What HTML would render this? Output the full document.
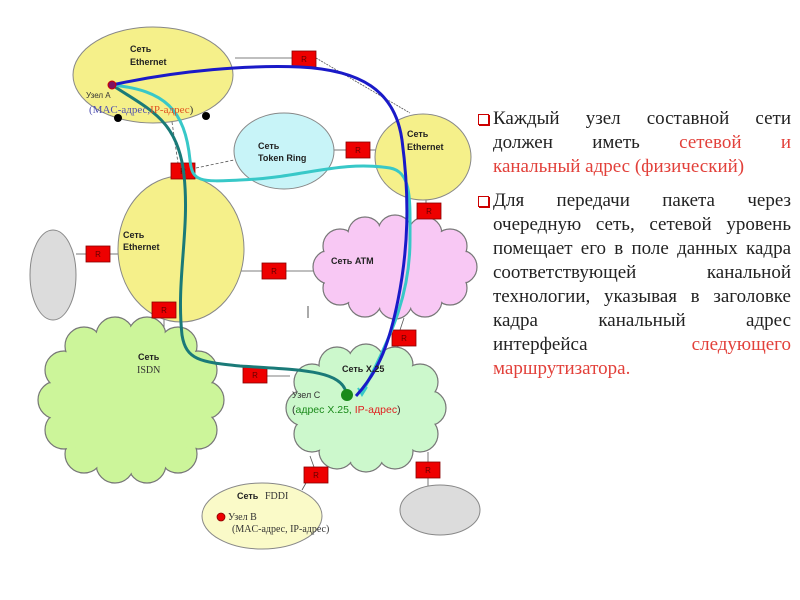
<!DOCTYPE html>
<html><head><meta charset="utf-8"><style>
html,body{margin:0;padding:0;background:#fff;}
body{width:800px;height:600px;position:relative;overflow:hidden;font-family:"Liberation Sans",sans-serif;}
svg{position:absolute;left:0;top:0;}
.txt{position:absolute;left:478px;width:313px;font-family:"Liberation Serif","DejaVu Serif",serif;font-size:19px;color:#222;}
.txt .l{margin-left:15px;text-align:justify;text-align-last:justify;white-space:nowrap;height:24px;line-height:24px;position:relative;}
.txt .l.e{text-align-last:left;}
.txt .b{position:absolute;left:-15px;top:7px;width:9px;height:9px;border:1px solid #c00;box-shadow:1px 1px 0 #c00;background:#fff;}
.r{color:#e2403a;}
</style></head><body>
<svg width="800" height="600" viewBox="0 0 800 600" font-family="Liberation Sans, sans-serif">
<g stroke="#555" stroke-width="0.8" fill="none">
<line x1="235" y1="58" x2="292" y2="58"/>
<line x1="316" y1="58" x2="410" y2="113" stroke-dasharray="2,1"/>
<line x1="334" y1="150" x2="346" y2="150"/>
<line x1="370" y1="150" x2="376" y2="150"/>
<line x1="172" y1="122" x2="178" y2="163" stroke-dasharray="3,2"/>
<line x1="196" y1="168" x2="234" y2="160" stroke-dasharray="3,2"/>
<line x1="180" y1="179" x2="180" y2="186"/>
<line x1="426" y1="196" x2="426" y2="203"/>
<line x1="426" y1="219" x2="426" y2="232"/>
<line x1="76" y1="254" x2="86" y2="254"/>
<line x1="110" y1="254" x2="119" y2="254"/>
<line x1="238" y1="271" x2="262" y2="271"/>
<line x1="286" y1="271" x2="315" y2="271"/>
<line x1="164" y1="318" x2="164" y2="328"/>
<line x1="404" y1="318" x2="400" y2="330"/>
<line x1="398" y1="346" x2="395" y2="355"/>
<line x1="267" y1="376" x2="290" y2="376"/>
<line x1="310" y1="456" x2="314" y2="467"/>
<line x1="306" y1="483" x2="302" y2="490"/>
<line x1="428" y1="452" x2="428" y2="462"/>
<line x1="428" y1="478" x2="428" y2="488"/>
</g>
<ellipse cx="153" cy="75" rx="80" ry="48" fill="#f5f08a" stroke="#888" stroke-width="1"/>
<ellipse cx="284" cy="151" rx="50" ry="38" fill="#c8f4f8" stroke="#888"/>
<ellipse cx="423" cy="157" rx="48" ry="43" fill="#f5f08a" stroke="#888"/>
<ellipse cx="181" cy="249" rx="63" ry="73" fill="#f5f08a" stroke="#888"/>
<ellipse cx="53" cy="275" rx="23" ry="45" fill="#dcdcdc" stroke="#888"/>
<ellipse cx="262" cy="516" rx="60" ry="33" fill="#fafac8" stroke="#888"/>
<ellipse cx="440" cy="510" rx="40" ry="25" fill="#dcdcdc" stroke="#888"/>
<g stroke="#777" stroke-width="1.2" fill="#f8c8f4">
<circle cx="460" cy="267" r="17"/><circle cx="450" cy="288" r="17"/><circle cx="425" cy="300" r="17"/><circle cx="395" cy="302" r="17"/><circle cx="365" cy="300" r="17"/><circle cx="340" cy="288" r="17"/><circle cx="330" cy="267" r="17"/><circle cx="340" cy="246" r="17"/><circle cx="365" cy="234" r="17"/><circle cx="395" cy="232" r="17"/><circle cx="425" cy="234" r="17"/><circle cx="450" cy="246" r="17"/>
</g>
<g fill="#f8c8f4">
<circle cx="460" cy="267" r="16"/><circle cx="450" cy="288" r="16"/><circle cx="425" cy="300" r="16"/><circle cx="395" cy="302" r="16"/><circle cx="365" cy="300" r="16"/><circle cx="340" cy="288" r="16"/><circle cx="330" cy="267" r="16"/><circle cx="340" cy="246" r="16"/><circle cx="365" cy="234" r="16"/><circle cx="395" cy="232" r="16"/><circle cx="425" cy="234" r="16"/><circle cx="450" cy="246" r="16"/>
<ellipse cx="395" cy="267" rx="65" ry="36"/>
</g>
<g stroke="#777" stroke-width="1.2" fill="#ccf59a">
<circle cx="205" cy="400" r="19"/><circle cx="198" cy="430" r="19"/><circle cx="178" cy="454" r="19"/><circle cx="147" cy="464" r="19"/><circle cx="115" cy="464" r="19"/><circle cx="84" cy="454" r="19"/><circle cx="64" cy="430" r="19"/><circle cx="57" cy="400" r="19"/><circle cx="64" cy="370" r="19"/><circle cx="84" cy="346" r="19"/><circle cx="115" cy="336" r="19"/><circle cx="147" cy="336" r="19"/><circle cx="178" cy="346" r="19"/><circle cx="198" cy="370" r="19"/>
</g>
<g fill="#ccf59a">
<circle cx="205" cy="400" r="18"/><circle cx="198" cy="430" r="18"/><circle cx="178" cy="454" r="18"/><circle cx="147" cy="464" r="18"/><circle cx="115" cy="464" r="18"/><circle cx="84" cy="454" r="18"/><circle cx="64" cy="430" r="18"/><circle cx="57" cy="400" r="18"/><circle cx="64" cy="370" r="18"/><circle cx="84" cy="346" r="18"/><circle cx="115" cy="336" r="18"/><circle cx="147" cy="336" r="18"/><circle cx="178" cy="346" r="18"/><circle cx="198" cy="370" r="18"/>
<ellipse cx="131" cy="400" rx="78" ry="68"/>
</g>
<g stroke="#777" stroke-width="1.2" fill="#ccf8cc">
<circle cx="428" cy="408" r="18"/><circle cx="420" cy="434" r="18"/><circle cx="395" cy="451" r="18"/><circle cx="366" cy="454" r="18"/><circle cx="337" cy="451" r="18"/><circle cx="312" cy="434" r="18"/><circle cx="304" cy="408" r="18"/><circle cx="312" cy="382" r="18"/><circle cx="337" cy="365" r="18"/><circle cx="366" cy="362" r="18"/><circle cx="395" cy="365" r="18"/><circle cx="420" cy="382" r="18"/>
</g>
<g fill="#ccf8cc">
<circle cx="428" cy="408" r="17"/><circle cx="420" cy="434" r="17"/><circle cx="395" cy="451" r="17"/><circle cx="366" cy="454" r="17"/><circle cx="337" cy="451" r="17"/><circle cx="312" cy="434" r="17"/><circle cx="304" cy="408" r="17"/><circle cx="312" cy="382" r="17"/><circle cx="337" cy="365" r="17"/><circle cx="366" cy="362" r="17"/><circle cx="395" cy="365" r="17"/><circle cx="420" cy="382" r="17"/>
<ellipse cx="366" cy="408" rx="64" ry="46"/>
</g>
<line x1="308" y1="306" x2="308" y2="318" stroke="#555" stroke-width="1"/>
<g fill="#ee0000" stroke="#800" stroke-width="0.8">
<rect x="292" y="51" width="24" height="16"/>
<rect x="346" y="142" width="24" height="16"/>
<rect x="171" y="163" width="24" height="16"/>
<rect x="417" y="203" width="24" height="16"/>
<rect x="86" y="246" width="24" height="16"/>
<rect x="262" y="263" width="24" height="16"/>
<rect x="152" y="302" width="24" height="16"/>
<rect x="392" y="330" width="24" height="16"/>
<rect x="243" y="367" width="24" height="16"/>
<rect x="304" y="467" width="24" height="16"/>
<rect x="416" y="462" width="24" height="16"/>
</g>
<g fill="#600" font-size="8" text-anchor="middle">
<text x="304" y="62">R</text><text x="358" y="153">R</text><text x="183" y="174">R</text><text x="429" y="214">R</text><text x="98" y="257">R</text><text x="274" y="274">R</text><text x="164" y="313">R</text><text x="404" y="341">R</text><text x="255" y="378">R</text><text x="316" y="478">R</text><text x="428" y="473">R</text>
</g>
<path d="M112 85 C150 110 178 120 184 175 C190 230 176 280 182 335 C186 360 200 362 240 366 C300 370 340 370 346 392" fill="none" stroke="#1a7a78" stroke-width="3"/>
<path d="M112 85 C165 90 185 110 190 160 C192 182 200 182 240 180 C300 178 340 160 390 168 C412 172 410 200 410 240 C410 290 395 330 362 393" fill="none" stroke="#38c8c8" stroke-width="3"/>
<path d="M358 388 L362 395 L367 387" fill="none" stroke="#38c8c8" stroke-width="2"/>
<path d="M112 85 C180 70 250 65 300 67 C360 70 395 90 402 140 C410 200 408 250 398 300 C390 340 380 370 356 396" fill="none" stroke="#1a1ac8" stroke-width="3"/>
<circle cx="112" cy="85" r="4" fill="#801060" stroke="#c00" stroke-width="1"/>
<circle cx="118" cy="118" r="4" fill="#000"/>
<circle cx="206" cy="116" r="4" fill="#000"/>
<circle cx="347" cy="395" r="6" fill="#1a8a1a"/>
<circle cx="221" cy="517" r="4" fill="#e00" stroke="#800" stroke-width="0.8"/>
<g font-size="9" font-weight="bold" fill="#222">
<text x="130" y="52">Сеть</text><text x="130" y="65">Ethernet</text>
<text x="258" y="149">Сеть</text><text x="258" y="161">Token Ring</text>
<text x="407" y="137">Сеть</text><text x="407" y="150">Ethernet</text>
<text x="123" y="238">Сеть</text><text x="123" y="250">Ethernet</text>
<text x="331" y="264">Сеть ATM</text>
<text x="138" y="360">Сеть</text>
<text x="342" y="372">Сеть Х.25</text>
<text x="237" y="499">Сеть</text>
</g>
<g font-family="Liberation Serif, serif" font-size="10" fill="#333">
<text x="137" y="373">ISDN</text>
<text x="265" y="499">FDDI</text>
<text x="86" y="98" font-family="Liberation Sans, sans-serif" font-size="8">Узел А</text>
<text x="89" y="113" font-size="11"><tspan fill="#5050b0">(MAC-адрес,</tspan><tspan fill="#e05020">IP-адрес</tspan>)</text>
<text x="228" y="520">Узел В</text>
<text x="232" y="532">(MAC-адрес, IP-адрес)</text>
</g>
<text x="292" y="398" font-size="9" fill="#333">Узел С</text>
<text x="292" y="413" font-size="10.5" fill="#333">(<tspan fill="#1a8a1a">адрес Х.25,</tspan> <tspan fill="#e02020">IP-адрес</tspan>)</text>
</svg>
<div class="txt" style="top:107px;">
<div class="l"><span class="b"></span>Каждый узел составной сети</div>
<div class="l">должен иметь <span class="r">сетевой и</span></div>
<div class="l e"><span class="r">канальный адрес (физический)</span></div>
</div>
<div class="txt" style="top:189px;">
<div class="l"><span class="b"></span>Для передачи пакета через</div>
<div class="l">очередную сеть, сетевой уровень</div>
<div class="l">помещает его в поле данных кадра</div>
<div class="l">соответствующей канальной</div>
<div class="l">технологии, указывая в заголовке</div>
<div class="l">кадра канальный адрес</div>
<div class="l">интерфейса <span class="r">следующего</span></div>
<div class="l e"><span class="r">маршрутизатора.</span></div>
</div>
</body></html>
